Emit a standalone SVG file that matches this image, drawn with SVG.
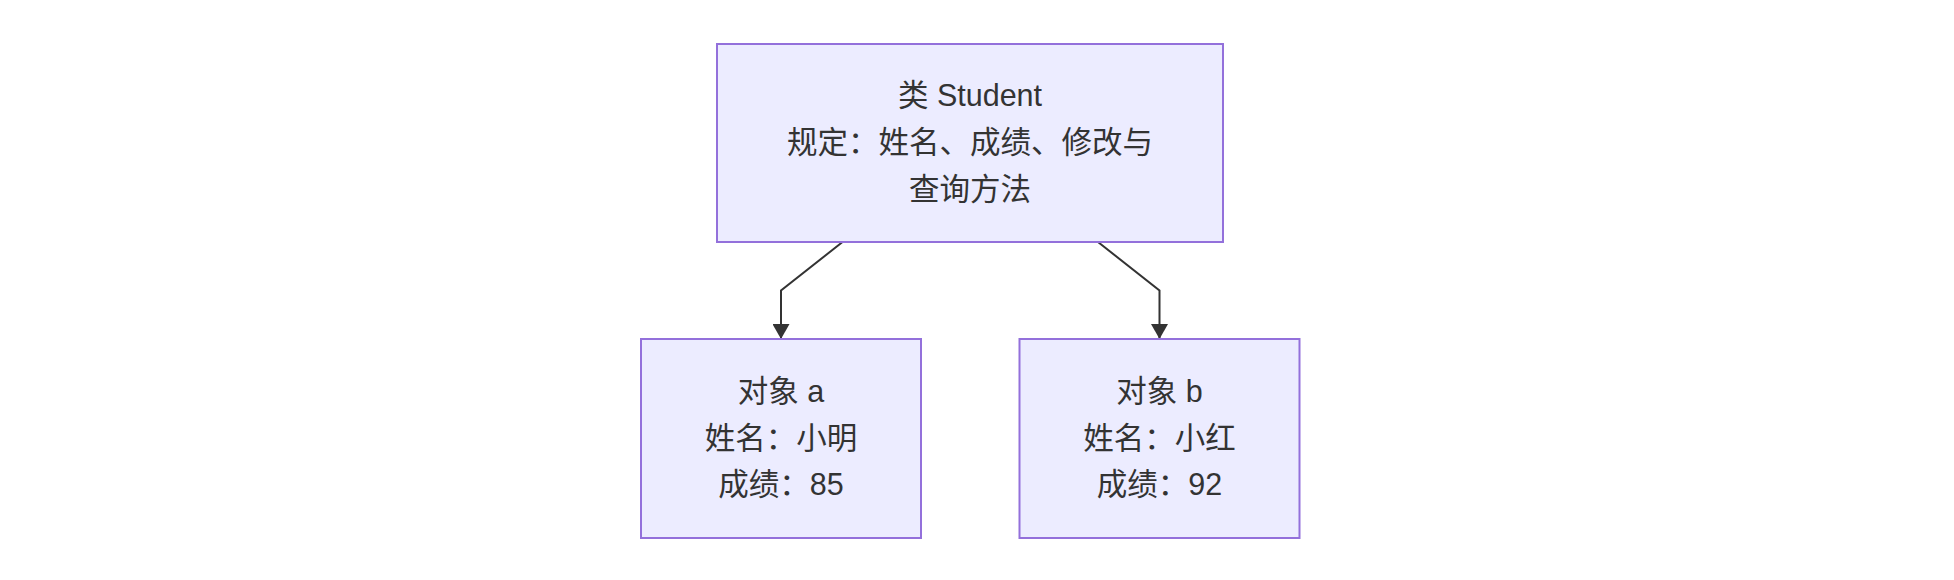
<svg xmlns="http://www.w3.org/2000/svg" width="1954" height="580" viewBox="0 0 1954 580">
<style>
.node rect{fill:#ECECFF;stroke:#9370DB;stroke-width:2}
.node text{font-family:"Liberation Sans","Noto Sans CJK SC",sans-serif;font-size:30.5px;fill:#333333;text-anchor:middle}
.edge{fill:none;stroke:#333333;stroke-width:2}
</style>
<defs>
<marker id="arrow" markerUnits="userSpaceOnUse" viewBox="0 0 15 17" markerWidth="15" markerHeight="17" refX="15" refY="8.5" orient="auto">
<path d="M0,0 L15,8.5 L0,17 z" fill="#333333"/>
</marker>
</defs>
<rect width="1954" height="580" fill="#ffffff"/>
<g id="connectors">
<path class="edge" d="M842.5,242 L781,290.5 L781,339" marker-end="url(#arrow)"/>
<path class="edge" d="M1098,242 L1159.5,290.5 L1159.5,339" marker-end="url(#arrow)"/>
</g>
<g id="node-student" class="node">
<rect x="717" y="44" width="506" height="198"/>
<text x="970" y="106">类 Student</text>
<text x="970" y="152.5">规定：姓名、成绩、修改与</text>
<text x="970" y="199.5">查询方法</text>
</g>
<g id="node-a" class="node">
<rect x="641" y="339" width="280" height="199"/>
<text x="781" y="402">对象 a</text>
<text x="781" y="448.5">姓名：小明</text>
<text x="781" y="495">成绩：85</text>
</g>
<g id="node-b" class="node">
<rect x="1019.5" y="339" width="280" height="199"/>
<text x="1159.5" y="402">对象 b</text>
<text x="1159.5" y="448.5">姓名：小红</text>
<text x="1159.5" y="495">成绩：92</text>
</g>
</svg>
